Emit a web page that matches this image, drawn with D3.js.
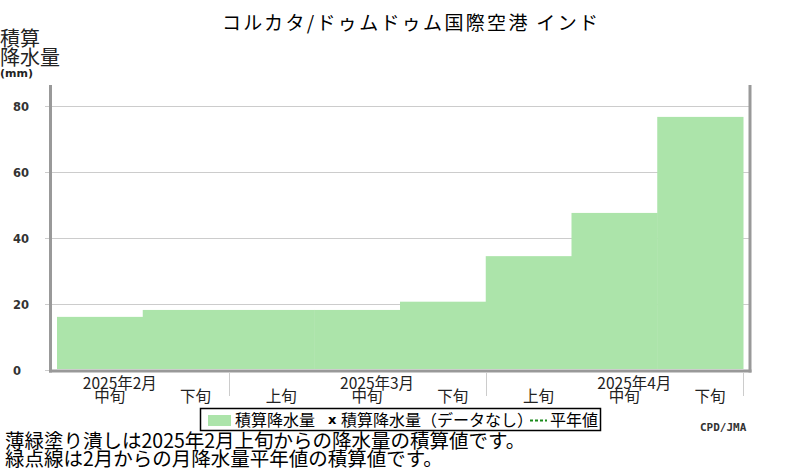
<!DOCTYPE html>
<html><head><meta charset="utf-8">
<script src="https://cdn.jsdelivr.net/npm/d3@7"></script>
<style>
html,body{margin:0;padding:0;background:#fff;}
svg{display:block;}
text{font-family:"Noto Sans CJK JP","Noto Sans",sans-serif;}
</style></head>
<body>
<svg id="chart" width="800" height="470"></svg>
<script>
// ---- data ----
const dekadLabels = ["中旬","下旬","上旬","中旬","下旬","上旬","中旬","下旬"];
const precipValues = [16.1, 18.2, 18.2, 18.2, 20.7, 34.5, 47.6, 76.7];
const monthLabels = ["2025年2月","2025年3月","2025年4月"];
const monthStartIndex = [-1, 2, 5];
const monthEndIndex = [2, 5, 8];
const yTicks = [0, 20, 40, 60, 80];
const titleText = "コルカタ/ドゥムドゥム国際空港 インド";
const legendItems = ["積算降水量", "積算降水量（データなし）", "平年値"];
const noteLines = ["薄緑塗り潰しは2025年2月上旬からの降水量の積算値です。", "緑点線は2月からの月降水量平年値の積算値です。"];

// ---- layout ----
const svg = d3.select("#chart");
const x = d3.scaleLinear().domain([0, dekadLabels.length]).range([57, 743]);
const y = d3.scaleLinear().domain([0, 80]).range([370, 106]);
const axisColor = "#999";

// title
svg.append("text").attr("x", 410).attr("y", 30).attr("text-anchor", "middle")
  .attr("font-size", 19).attr("textLength", 376).attr("lengthAdjust", "spacing")
  .attr("fill", "#000").text(titleText);

// y axis label
svg.append("text").attr("x", 0).attr("y", 46).attr("font-size", 20).attr("fill", "#222").text("積算");
svg.append("text").attr("x", 0).attr("y", 65).attr("font-size", 20).attr("fill", "#222").text("降水量");
svg.append("text").attr("x", 0).attr("y", 77).attr("font-size", 11).attr("font-weight", "bold")
  .style("font-family", "DejaVu Sans").attr("fill", "#222").text("(mm)");

// gridlines
svg.append("g").selectAll("line").data(yTicks).join("line")
  .attr("x1", 45).attr("x2", 749)
  .attr("y1", d => y(d) + 0.5).attr("y2", d => y(d) + 0.5)
  .attr("stroke", "#ccc").attr("stroke-width", 1);

// y tick labels
svg.append("g").selectAll("text").data(yTicks).join("text")
  .attr("x", 13).attr("y", d => y(d) + 4.7)
  .style("font-family", "DejaVu Sans").attr("font-weight", "bold").attr("font-size", 11.5)
  .attr("fill", "#333").text(d => d);

// bars (step fill)
svg.append("g").selectAll("rect").data(precipValues).join("rect")
  .attr("x", (d, i) => x(i)).attr("width", (d, i) => x(i + 1) - x(i) + 0.5)
  .attr("y", d => y(d)).attr("height", d => y(0) - 1 - y(d))
  .attr("fill", "#ace4aa");

// axes frame
svg.append("line").attr("x1", 50.5).attr("x2", 50.5).attr("y1", 85).attr("y2", 372.5)
  .attr("stroke", axisColor).attr("stroke-width", 3);
svg.append("line").attr("x1", 750).attr("x2", 750).attr("y1", 85).attr("y2", 372.5)
  .attr("stroke", axisColor).attr("stroke-width", 3);
svg.append("line").attr("x1", 49).attr("x2", 751.5).attr("y1", 371).attr("y2", 371)
  .attr("stroke", axisColor).attr("stroke-width", 3);

// month separators
svg.append("g").selectAll("line").data(monthEndIndex).join("line")
  .attr("x1", d => Math.round(x(d)) + 0.5).attr("x2", d => Math.round(x(d)) + 0.5)
  .attr("y1", 373).attr("y2", 396).attr("stroke", "#ccc").attr("stroke-width", 1);

// month labels
svg.append("g").selectAll("text").data(monthLabels).join("text")
  .attr("x", (d, i) => (x(monthStartIndex[i]) + x(monthEndIndex[i])) / 2 + 20)
  .attr("y", 389).attr("text-anchor", "middle").attr("font-size", 15.5).attr("fill", "#222")
  .text(d => d);

// dekad labels
svg.append("g").selectAll("text").data(dekadLabels).join("text")
  .attr("x", (d, i) => (x(i) + x(i + 1)) / 2 + 10)
  .attr("y", 402).attr("text-anchor", "middle").attr("font-size", 15.5).attr("fill", "#222")
  .text(d => d);

// legend
const lg = svg.append("g");
lg.append("rect").attr("x", 200.5).attr("y", 408.5).attr("width", 400).attr("height", 22)
  .attr("fill", "#fff").attr("stroke", "#000").attr("stroke-width", 1.5);
lg.append("rect").attr("x", 208).attr("y", 415).attr("width", 23).attr("height", 11).attr("fill", "#ace4aa");
lg.append("text").attr("x", 235).attr("y", 426).attr("font-size", 16).attr("fill", "#000").text(legendItems[0]);
lg.append("text").attr("x", 328).attr("y", 424).attr("font-size", 13).attr("font-weight", "bold")
  .style("font-family", "DejaVu Sans").attr("fill", "#000").text("x");
lg.append("text").attr("x", 341).attr("y", 426).attr("font-size", 16).attr("fill", "#000").text(legendItems[1]);
lg.append("line").attr("x1", 530).attr("x2", 547).attr("y1", 420.5).attr("y2", 420.5)
  .attr("stroke", "#1a8a1a").attr("stroke-width", 2).attr("stroke-dasharray", "3,2");
lg.append("text").attr("x", 550).attr("y", 426).attr("font-size", 16).attr("fill", "#000").text(legendItems[2]);

// credit
svg.append("text").attr("x", 700).attr("y", 431).style("font-family", "DejaVu Sans Mono")
  .attr("font-weight", "bold").attr("font-size", 11).attr("fill", "#333").text("CPD/JMA");

// notes
svg.append("g").selectAll("text").data(noteLines).join("text")
  .attr("x", 5).attr("y", (d, i) => 448 + i * 18).attr("font-size", 19.5).attr("fill", "#000")
  .text(d => d);
</script>
</body></html>
